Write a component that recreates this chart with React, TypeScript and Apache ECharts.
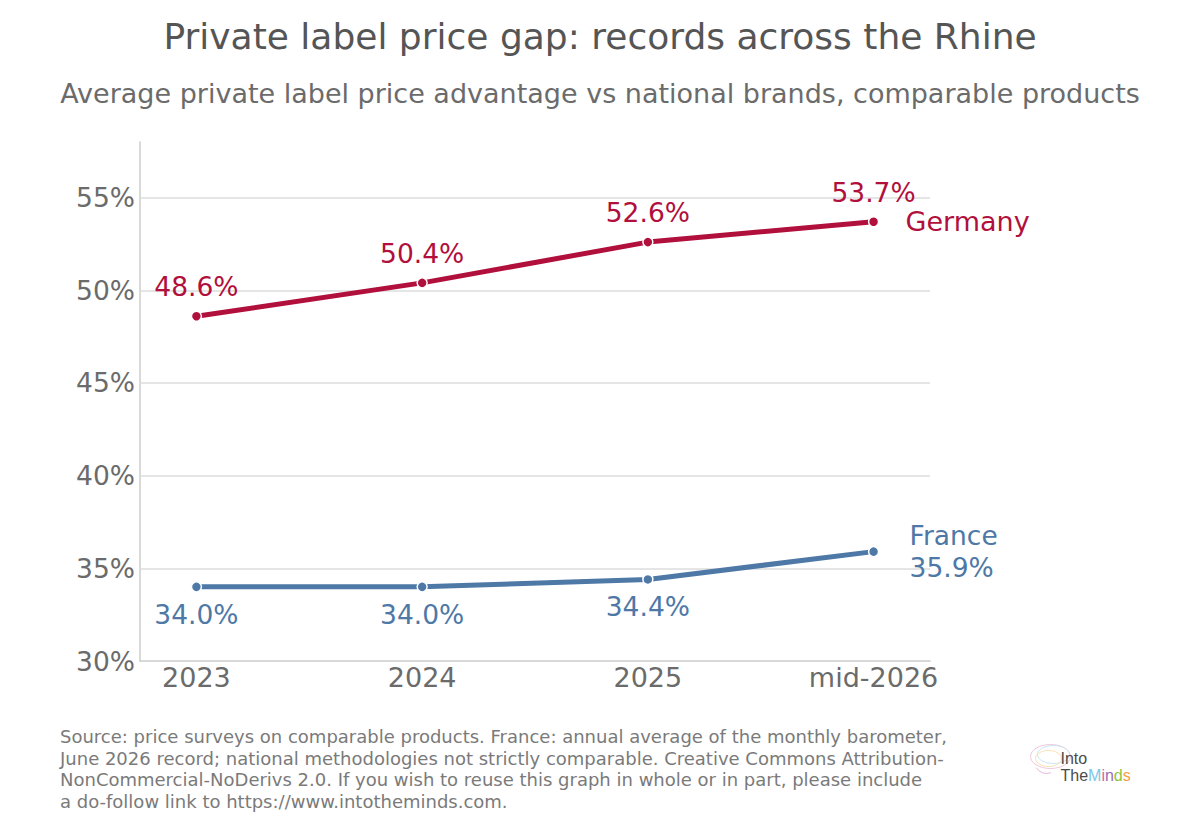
import React, { useEffect, useRef } from "react";
import * as echarts from "echarts";

const categories = ["2023", "2024", "2025", "mid-2026"];
const germany = [48.6, 50.4, 52.6, 53.7];
const france = [34.0, 34.0, 34.4, 35.9];
const yTicks = [30, 35, 40, 45, 50, 55];
const gridValues = [35, 40, 45, 50, 55];

const FONT = "DejaVu Sans";
const RED = "#b10f3c";
const BLUE = "#4e78a6";

export default function App() {
  const ref = useRef<HTMLDivElement>(null);
  useEffect(() => {
    if (!ref.current) return;
    const chart = echarts.init(ref.current, null, { renderer: "svg" });
    const gData = germany.map((v, i) => [i, v]);
    const fData = france.map((v, i) => ({
      value: [i, v],
      label: i === france.length - 1 ? { show: false } : undefined,
    }));
    chart.setOption({
      animation: false,
      backgroundColor: "#ffffff",
      textStyle: { fontFamily: FONT },
      title: [
        {
          text: "Private label price gap: records across the Rhine",
          left: "center",
          top: 13,
          textStyle: { fontSize: 36, fontWeight: "normal", color: "#555555", fontFamily: FONT },
        },
        {
          text: "Average private label price advantage vs national brands, comparable products",
          left: "center",
          top: 75,
          textStyle: { fontSize: 27, fontWeight: "normal", color: "#6b6b6b", fontFamily: FONT },
        },
      ],
      grid: { left: 140, right: 270, top: 142, bottom: 168, containLabel: false },
      xAxis: {
        type: "value",
        min: -0.25,
        max: 3.25,
        axisLine: { show: true, onZero: false, lineStyle: { color: "#cccccc", width: 1.5 } },
        axisTick: { show: false },
        splitLine: { show: false },
        axisLabel: {
          customValues: [0, 1, 2, 3],
          formatter: (v: number) => categories[Math.round(v)] ?? "",
          fontSize: 27,
          color: "#6b6b6b",
          margin: 3,
          fontFamily: FONT,
        },
      },
      yAxis: {
        type: "value",
        min: 30,
        max: 58,
        axisLine: { show: true, onZero: false, lineStyle: { color: "#cccccc", width: 1.5 } },
        axisTick: { show: false },
        splitLine: { show: false },
        axisLabel: {
          customValues: yTicks,
          formatter: (v: number) => `${v}%`,
          fontSize: 26.5,
          color: "#6b6b6b",
          margin: 5,
          fontFamily: FONT,
        },
      },
      series: [
        {
          name: "Germany",
          type: "line",
          data: gData,
          z: 3,
          lineStyle: { color: RED, width: 5 },
          itemStyle: { color: RED, borderColor: "#ffffff", borderWidth: 1.5 },
          symbol: "circle",
          symbolSize: 10,
          label: {
            show: true,
            position: "top",
            distance: 10,
            formatter: (p: any) => `${p.value[1].toFixed(1)}%`,
            fontSize: 26.5,
            color: RED,
            fontFamily: FONT,
          },
          endLabel: {
            show: true,
            formatter: (p: any) => p.seriesName,
            distance: 32,
            fontSize: 27,
            color: RED,
            fontFamily: FONT,
          },
          markLine: {
            silent: true,
            symbol: "none",
            z: 1,
            label: { show: false },
            lineStyle: { color: "#dddddd", width: 1.5, type: "solid" },
            emphasis: { disabled: true },
            data: gridValues.map((v) => ({ yAxis: v })),
          },
        },
        {
          name: "France",
          type: "line",
          data: fData,
          z: 3,
          lineStyle: { color: BLUE, width: 5 },
          itemStyle: { color: BLUE, borderColor: "#ffffff", borderWidth: 1.5 },
          symbol: "circle",
          symbolSize: 10,
          label: {
            show: true,
            position: "bottom",
            distance: 8,
            formatter: (p: any) => `${p.value[1].toFixed(1)}%`,
            fontSize: 26.5,
            color: BLUE,
            fontFamily: FONT,
          },
          endLabel: {
            show: true,
            formatter: (p: any) => `${p.seriesName}\n${p.value[1].toFixed(1)}%`,
            distance: 36,
            fontSize: 26.5,
            lineHeight: 32,
            color: BLUE,
            fontFamily: FONT,
          },
        },
      ],
      graphic: [
        {
          type: "text",
          left: 60,
          top: 726,
          style: {
            text:
              "Source: price surveys on comparable products. France: annual average of the monthly barometer,\n" +
              "June 2026 record; national methodologies not strictly comparable. Creative Commons Attribution-\n" +
              "NonCommercial-NoDerivs 2.0. If you wish to reuse this graph in whole or in part, please include\n" +
              "a do-follow link to https://www.intotheminds.com.",
            fontSize: 18,
            lineHeight: 21.5,
            fill: "#7a7a7a",
            fontFamily: FONT,
          },
        },
        {
          type: "group",
          left: 1028,
          top: 742,
          children: [
            { type: "ellipse", shape: { cx: 22, cy: 15, rx: 20, ry: 12 }, style: { fill: "none", stroke: "#f2c6dc", lineWidth: 1 } },
            { type: "ellipse", shape: { cx: 25, cy: 13, rx: 16, ry: 9 }, style: { fill: "none", stroke: "#c9e6f2", lineWidth: 1 } },
            { type: "ellipse", shape: { cx: 20, cy: 17, rx: 13, ry: 8 }, style: { fill: "none", stroke: "#f7e3b5", lineWidth: 1 } },
            { type: "arc", shape: { cx: 18, cy: 20, r: 12, startAngle: 1.2, endAngle: 2.6 }, style: { fill: "none", stroke: "#e4b8d8", lineWidth: 1 } },
            {
              type: "text",
              x: 32,
              y: 9,
              style: { text: "Into", fontSize: 16, fill: "#4a4a4a", fontFamily: "Liberation Sans" },
            },
            {
              type: "text",
              x: 32,
              y: 26,
              style: {
                text: "{a|The}{b|M}{c|i}{d|n}{e|d}{f|s}",
                fontSize: 16,
                fontFamily: "Liberation Sans",
                rich: {
                  a: { fill: "#4a4a4a", fontSize: 16 },
                  b: { fill: "#7cc7e8", fontSize: 16 },
                  c: { fill: "#e8609a", fontSize: 16 },
                  d: { fill: "#9b6db5", fontSize: 16 },
                  e: { fill: "#8cc63f", fontSize: 16 },
                  f: { fill: "#f5a040", fontSize: 16 },
                },
              },
            },
          ],
        },
      ],
    });
    return () => chart.dispose();
  }, []);
  return (
    <div
      ref={ref}
      style={{ position: "absolute", left: 0, top: 0, width: 1200, height: 829, background: "#fff" }}
    />
  );
}
